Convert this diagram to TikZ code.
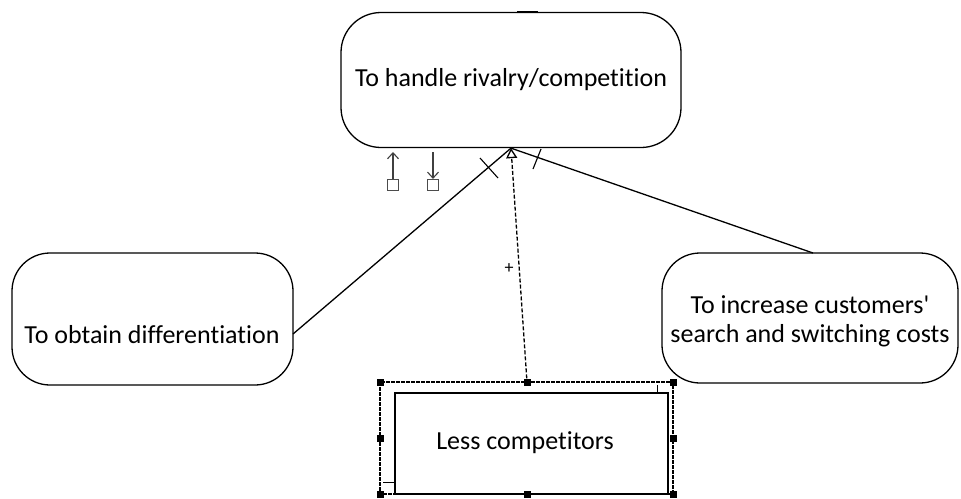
\documentclass[tikz,border=0pt]{standalone}
\usepackage{fontspec}
\setmainfont{Carlito}[Ligatures={NoCommon}]
\usetikzlibrary{arrows.meta}
\begin{document}
\begin{tikzpicture}[x=1pt,y=-1pt,
  goalbox/.style={draw, line width=1.3pt, rounded corners=40pt, inner sep=0pt},
  lbl/.style={font=\fontsize{26}{31}\selectfont, align=center, inner sep=0pt},
  conn/.style={draw, line width=1.3pt},
  tick/.style={draw, line width=1.1pt},
  handle/.style={fill=black, minimum size=7pt, inner sep=0pt},
  pin/.style={draw=black!70, line width=1.2pt, minimum size=11pt, inner sep=0pt, fill=white},
  smallarrow/.style={draw=black!75, line width=1.1pt, -{Straight Barb[length=6pt,width=11pt]}}
]
\useasboundingbox (0,0) rectangle (961,498);
% nodes
\node[goalbox, minimum width=340pt, minimum height=135pt] (top) at (511,80) {};
\node[lbl] (toptext) at (511,80) {To handle rivalry/competition};
\node[goalbox, rounded corners=38pt, minimum width=281pt, minimum height=132pt] (left) at (152.5,319) {};
\node[lbl] (lefttext) at (152,335) {To obtain differentiation};
\node[goalbox, rounded corners=38pt, minimum width=296pt, minimum height=130pt] (right) at (810,318) {};
\node[lbl] (righttext) at (810,321) {To increase customers\textquotesingle\\[-2pt]search and switching costs};
% bottom selected box
\node[draw, line width=1.3pt, minimum width=273pt, minimum height=101pt, inner sep=0pt] (bottom) at (531.5,443.5) {};
\node[lbl] (bottomtext) at (525,443) {Less competitors};
\draw[line width=1pt] (383,482) -- (395,482);
\draw[line width=1pt] (657,385) -- (657,393);
\draw[line width=1.8pt, dash pattern=on 4pt off 1pt] (380,382) rectangle (673,494);
\foreach \x/\y [count=\i] in {380/382,527/382,673/382,380/438,673/438,380/494,527/494,673/494}
  \node[handle] (h\i) at (\x,\y) {};
% small mark on top border
\draw[line width=2.2pt] (517,12) -- (538,12);
% connectors
\coordinate (lend) at (293,334);
\coordinate (rend) at (813,253);
\draw[conn] (lend) -- (top.south);
\draw[conn] (top.south) -- (rend);
\draw[conn, dash pattern=on 4pt off 2pt, -{Triangle[open,length=10pt,width=11pt]}] (h2) -- (top.south);
\node[font=\fontsize{18}{18}\selectfont, inner sep=0pt] (plus) at (509,269) {+};
% ticks
\draw[tick] (480,158) -- (498,178);
\draw[tick] (541,149) -- (533,169);
% small pin arrows
\node[pin] (pinA) at (393,185) {};
\node[pin] (pinB) at (433,185) {};
\draw[smallarrow] (pinA.north) -- (393,152);
\draw[smallarrow] (433,152) -- (pinB.north);
\end{tikzpicture}
\end{document}
